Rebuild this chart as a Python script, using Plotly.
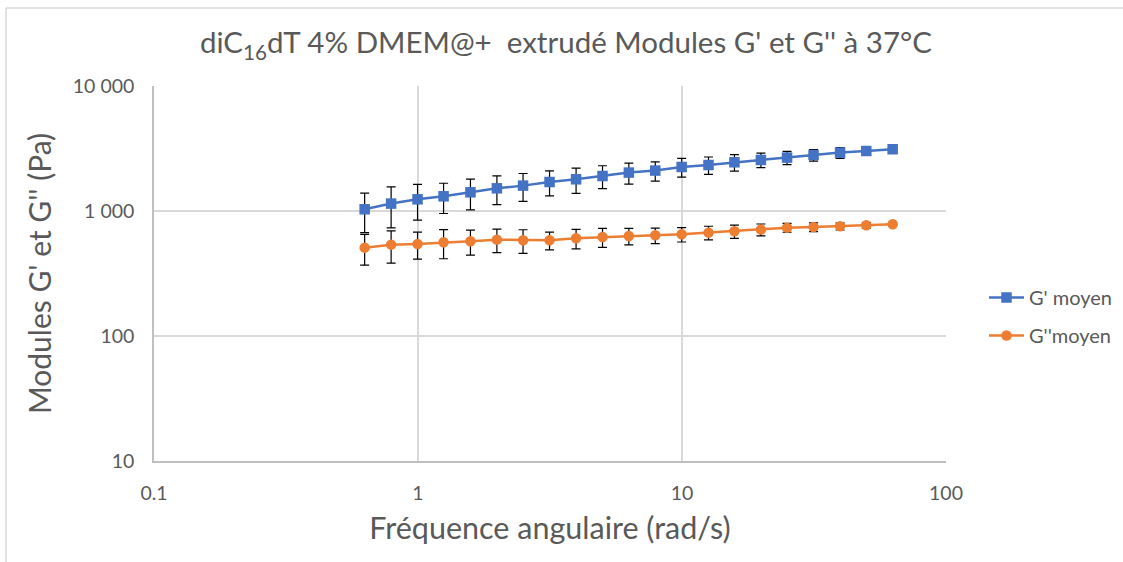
import plotly.graph_objects as go

freq = [0.628, 0.791, 0.996, 1.25, 1.58, 1.99, 2.5, 3.15, 3.97, 5.0, 6.29,
        7.92, 9.97, 12.6, 15.8, 19.9, 25.0, 31.5, 39.7, 49.9, 62.8]
g1 = [1032, 1146, 1240, 1311, 1411, 1519, 1596, 1706, 1793, 1905, 2029,
      2105, 2249, 2333, 2453, 2560, 2675, 2805, 2931, 3020, 3119]
g1_sd = [360, 412, 396, 356, 390, 394, 400, 387, 408, 397, 390,
         370, 385, 370, 370, 340, 325, 300, 290, 150, 60]
g2 = [509, 538, 545, 562, 573, 590, 583, 583, 605, 619, 631,
      639, 651, 671, 688, 710, 736, 745, 755, 769, 783]
g2_sd = [140, 155, 133, 147, 130, 125, 125, 95, 108, 108, 95,
         90, 86, 84, 84, 77, 60, 60, 50, 40, 30]

ytick_vals = [10, 100, 1000, 10000]
ytick_text = ["10", "100", "1 000", "10 000"]
xtick_vals = [0.1, 1, 10, 100]
xtick_text = ["0.1", "1", "10", "100"]

FONT = "Lato, Liberation Sans, Arial"
GREY = "#595959"

fig = go.Figure()
fig.add_trace(go.Scatter(
    x=freq, y=g1, name="G' moyen", mode="lines+markers", legendgroup="a",
    line=dict(color="#4472C4", width=2.5),
    marker=dict(symbol="square", size=10.5, color="#4472C4"),
    error_y=dict(type="data", array=g1_sd, visible=True, color="black", thickness=1.2, width=4.5),
))
fig.add_trace(go.Scatter(
    x=freq, y=g2, name="G''moyen", mode="lines+markers", legendgroup="b",
    line=dict(color="#ED7D31", width=2.5),
    marker=dict(symbol="circle", size=10.5, color="#ED7D31"),
    error_y=dict(type="data", array=g2_sd, visible=True, color="black", thickness=1.2, width=4.5),
))

W, H = 1123, 562
L, R, T, B = 154, 946, 86, 461

def px(x):
    return (x - L) / (R - L)

def py(y):
    return (B - y) / (B - T)

fig.update_layout(
    width=W, height=H,
    margin=dict(l=L, r=W - R, t=T, b=H - B, autoexpand=False),
    paper_bgcolor="white", plot_bgcolor="white",
    font=dict(family=FONT, color=GREY, size=19),
    title=dict(
        text="diC<sub>16</sub>dT 4% DMEM@+ &nbsp;extrudé Modules G' et G'' à 37°C",
        x=px(566), xref="paper", xanchor="center",
        y=1 - 43 / H, yref="container", yanchor="middle",
        font=dict(family=FONT, size=29.5, color=GREY),
    ),
    xaxis=dict(
        type="log", range=[-1, 2], tickvals=xtick_vals, ticktext=xtick_text,
        showgrid=True, gridcolor="#d9d9d9", gridwidth=1.5,
        showline=True, linecolor="#bfbfbf", linewidth=1.5, mirror=False,
        ticks="", zeroline=False, ticklabelstandoff=14,
        tickfont=dict(size=19.5, color=GREY),
        title=dict(text="Fréquence angulaire (rad/s)", font=dict(size=30.5, color=GREY), standoff=14),
    ),
    yaxis=dict(
        type="log", range=[1, 4], tickvals=ytick_vals, ticktext=ytick_text,
        showgrid=True, gridcolor="#d9d9d9", gridwidth=1.5,
        showline=True, linecolor="#bfbfbf", linewidth=1.5, mirror=False,
        ticks="", zeroline=False, ticklabelstandoff=14,
        tickfont=dict(size=19.5, color=GREY),
        title=dict(text="Modules G' et G'' (Pa)", font=dict(size=30, color=GREY), standoff=12),
    ),
    legend=dict(
        x=px(984), xanchor="left", y=py(278), yanchor="top",
        font=dict(size=20, color=GREY), bgcolor="rgba(0,0,0,0)",
        tracegroupgap=9, itemwidth=35,
    ),
    shapes=[
        dict(type="line", xref="paper", yref="paper",
             x0=px(6), x1=px(1123), y0=py(8), y1=py(8),
             line=dict(color="#d9d9d9", width=1.5)),
        dict(type="line", xref="paper", yref="paper",
             x0=px(6), x1=px(6), y0=py(8), y1=py(562),
             line=dict(color="#d9d9d9", width=1.5)),
    ],
)

fig.write_html("out.html", config={"displayModeBar": False},
               post_script="document.body.style.margin='0';document.body.style.padding='0';")
